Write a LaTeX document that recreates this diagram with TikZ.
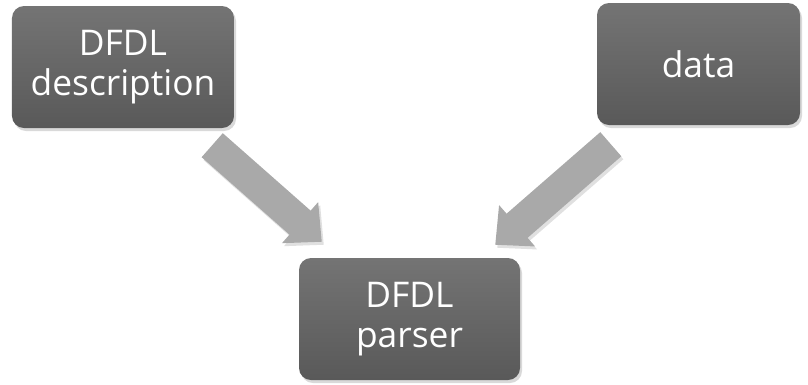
\documentclass[tikz,border=0pt]{standalone}
\usepackage{fontspec}
\setsansfont{Open Sans}
\usetikzlibrary{arrows.meta,calc,shadows}
\definecolor{boxtop}{HTML}{747474}
\definecolor{boxbottom}{HTML}{595959}
\definecolor{arrowgray}{HTML}{A9A9A9}
\begin{document}
\begin{tikzpicture}[x=1bp,y=-1bp]
\tikzstyle{box} = [rounded corners=12bp, top color=boxtop, bottom color=boxbottom, text=white, align=center, inner sep=0pt, font=\sffamily\fontsize{35.5}{40}\selectfont, drop shadow={opacity=0.3, shadow xshift=2bp, shadow yshift=-3bp}]
\tikzstyle{arrow} = [line width=32bp, draw=arrowgray, -{Triangle[width=53bp,length=29bp]}]
\tikzstyle{arrowshadow} = [line width=32bp, draw=black, opacity=0.12, -{Triangle[width=53bp,length=29bp]}, transform canvas={shift={(2bp,-3bp)}}]

\useasboundingbox (0,0) rectangle (808,384);

\node (DfdlDescription) [box, minimum width=222bp, minimum height=122bp] at (123,67) {DFDL\\description};
\node (Data) [box, minimum width=203bp, minimum height=122bp] at (698.5,64) {data};
\node (DfdlParser) [box, minimum width=221bp, minimum height=122bp] at (409.5,319) {DFDL\\parser};

\draw [arrowshadow] ($(DfdlDescription.south east)+(-22,17)$) -- ($(DfdlParser.north west)+(23,-16)$);
\draw [arrowshadow] ($(Data.south west)+(14,19)$) -- ($(DfdlParser.north east)+(-25,-13)$);
\draw [arrow] ($(DfdlDescription.south east)+(-22,17)$) -- ($(DfdlParser.north west)+(23,-16)$);
\draw [arrow] ($(Data.south west)+(14,19)$) -- ($(DfdlParser.north east)+(-25,-13)$);

\end{tikzpicture}
\end{document}
